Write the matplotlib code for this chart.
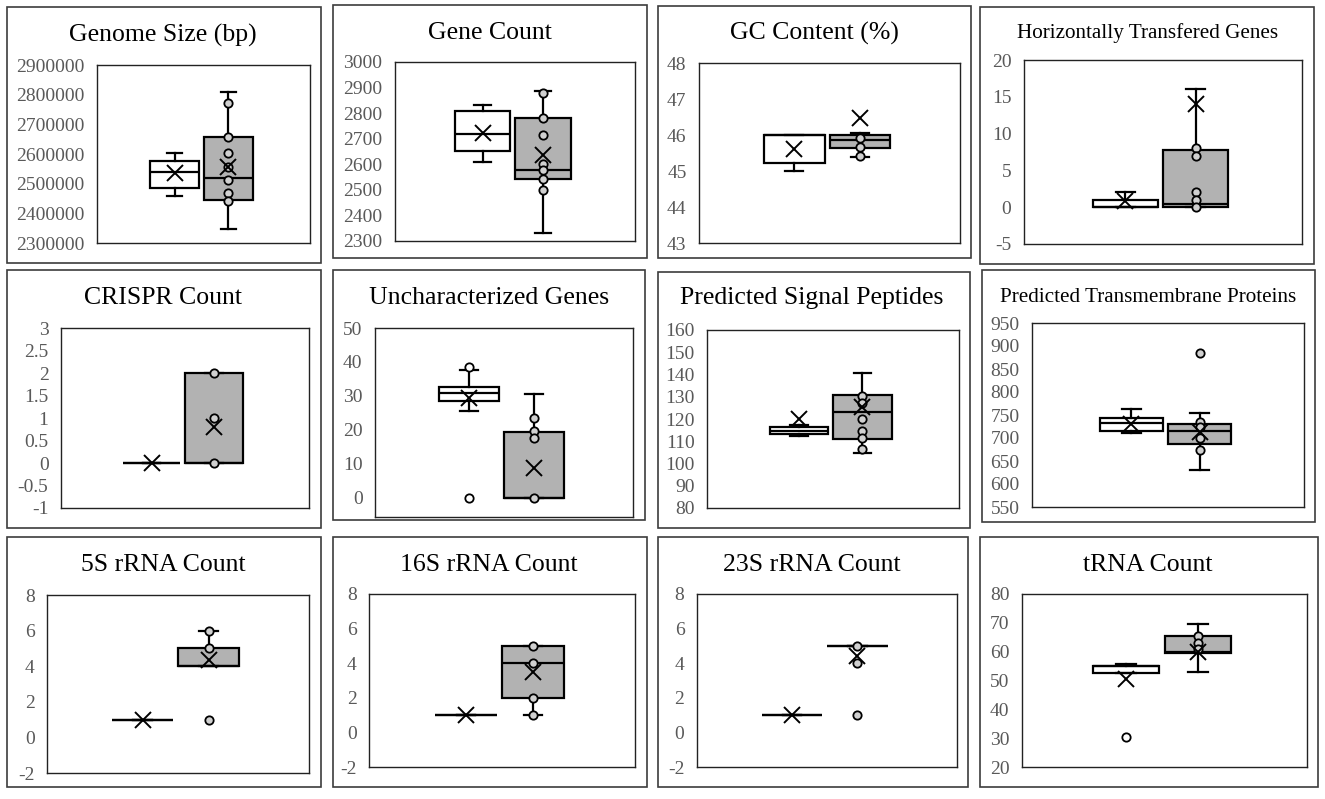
import matplotlib
matplotlib.use("Agg")
import matplotlib.pyplot as plt
from matplotlib.patches import Rectangle
from matplotlib.ticker import FuncFormatter
import numpy as np

# ---------------- data ----------------
titles = ["Genome Size (bp)", "Gene Count", "GC Content (%)", "Horizontally Transfered Genes",
          "CRISPR Count", "Uncharacterized Genes", "Predicted Signal Peptides",
          "Predicted Transmembrane Proteins", "5S rRNA Count", "16S rRNA Count",
          "23S rRNA Count", "tRNA Count"]

# white series box statistics
white_whislo = [2457600, 2609, 45.01, 0, 0, 25.6, 112.4, 710, 1, 1, 1, 52.7]
white_q1     = [2485700, 2651, 45.23, 0, 0, 28.5, 113.2, 715.8, 1, 1, 1, 52.7]
white_med    = [2539800, 2720, 46.0, 0, 0, 30.8, 114.7, 733.3, 1, 1, 1, 55.2]
white_q3     = [2576900, 2810, 46.0, 1, 0, 32.5, 116.2, 742.7, 1, 1, 1, 55.2]
white_whishi = [2601700, 2833, 46.0, 2, 0, 37.6, 117.2, 763, 1, 1, 1, 55.8]
white_mean   = [2536000, 2724, 45.61, 0.8, 0, 29.3, 119.9, 729.6, 1, 1, 1, 50.5]
white_points = [[], [], [], [], [], [38.6, 0], [], [], [], [], [], [30.4]]

# gray series box statistics
gray_whislo = [2347300, 2333, 45.40, 0, 0, 0, 104.5, 630, 4, 1, 5, 52.8]
gray_q1     = [2444100, 2544, 45.65, 0, 0, 0, 111.2, 687.4, 4, 2, 5, 59.6]
gray_med    = [2519500, 2579, 45.86, 0.5, 0, 0, 123.2, 715.8, 4, 4, 5, 60.0]
gray_q3     = [2655700, 2781, 46.0, 7.75, 2, 19.3, 130.7, 731, 5, 5, 5, 65.6]
gray_whishi = [2810000, 2887, 46.05, 16, 2, 30.7, 140.5, 753.6, 6, 5, 5, 69.5]
gray_mean   = [2556700, 2635, 46.47, 14, 0.8, 8.8, 125.5, 713.6, 4.36, 3.52, 4.42, 60.0]
gray_points = [[2771700, 2655700, 2602800, 2556700, 2511600, 2470000, 2440700],
               [2880, 2781, 2716, 2602, 2576, 2544, 2501],
               [45.93, 45.67, 45.43],
               [8, 7, 2, 1, 0],
               [2, 1, 0],
               [23.6, 19.8, 17.7, 0],
               [130.3, 127, 120.1, 114.7, 111.5, 106.3],
               [884.5, 735.5, 724.5, 699, 673.6],
               [6, 5, 1],
               [5, 4, 2, 1],
               [5, 4, 1],
               [65.6, 62.9, 60.8]]

# y axis ranges and tick steps
y_min  = [2300000, 2300, 43, -5, -1, -5.6, 80, 550, -2, -2, -2, 20]
y_max  = [2900000, 3000, 48, 20, 3, 50, 160, 950, 8, 8, 8, 80]
y_tick_start = [2300000, 2300, 43, -5, -1, 0, 80, 550, -2, -2, -2, 20]
y_step = [100000, 100, 1, 5, 0.5, 10, 10, 50, 2, 2, 2, 10]

# ---------------- layout (pixels) ----------------
W, H = 1325, 799
frames = [(7, 7, 321, 263), (333, 5, 647, 258), (658, 6, 971, 258), (980, 7, 1314, 264),
          (7, 270, 321, 528), (333, 270, 645, 520), (658, 272, 970, 528), (982, 270, 1315, 522),
          (7, 537, 321, 787), (333, 537, 647, 787), (658, 537, 968, 787), (980, 537, 1318, 787)]
plots = [(97, 65, 310, 243), (395, 62, 635, 241), (699, 63, 960, 243), (1024, 60, 1302, 244),
         (61, 328, 309, 508), (375, 328, 633, 517), (707, 330, 959, 508), (1032, 323, 1304, 507),
         (47, 595, 309, 773), (369, 594, 635, 767), (697, 594, 957, 767), (1022, 594, 1307, 767)]
title_pos = [(163, 35), (490, 33), (814, 33), (1148, 33),
             (163, 298), (489, 298), (812, 298), (1148, 297),
             (163, 565), (489, 565), (812, 565), (1148, 565)]
title_size = [18.5, 18.5, 18.5, 15.2, 18.5, 18.5, 18.5, 15.2, 18.5, 18.5, 18.5, 18.5]

SERIF = ["Liberation Serif", "DejaVu Serif"]
plt.rcParams["font.family"] = SERIF

fig = plt.figure(figsize=(W / 100, H / 100), dpi=100)
fig.patch.set_facecolor("white")

POS = [0.365, 0.617]
WID = 0.232
LW = 1.6
fmt = FuncFormatter(lambda v, p: f"{v:.10g}")

for i in range(12):
    l, t, r, b = frames[i]
    fig.add_artist(Rectangle((l / W, 1 - b / H), (r - l) / W, (b - t) / H,
                             transform=fig.transFigure, fill=False,
                             edgecolor="#3c3c3c", linewidth=1.2))
    cx, cy = title_pos[i]
    fig.text(cx / W, 1 - cy / H, titles[i], ha="center", va="center",
             fontsize=title_size[i], color="black")

    l, t, r, b = plots[i]
    ax = fig.add_axes([l / W, 1 - b / H, (r - l) / W, (b - t) / H])

    stats = [
        dict(whislo=white_whislo[i], q1=white_q1[i], med=white_med[i], q3=white_q3[i],
             whishi=white_whishi[i], mean=white_mean[i]),
        dict(whislo=gray_whislo[i], q1=gray_q1[i], med=gray_med[i], q3=gray_q3[i],
             whishi=gray_whishi[i], mean=gray_mean[i]),
    ]
    bp = ax.bxp(stats, positions=POS, widths=WID, patch_artist=True, showmeans=True,
                showfliers=False, capwidths=0.07,
                boxprops=dict(edgecolor="black", linewidth=LW),
                medianprops=dict(color="black", linewidth=LW),
                whiskerprops=dict(color="black", linewidth=LW),
                capprops=dict(color="black", linewidth=LW),
                meanprops=dict(marker="x", markersize=11, markeredgecolor="black",
                               markeredgewidth=1.4, zorder=5))
    bp["boxes"][0].set_facecolor("white")
    bp["boxes"][1].set_facecolor("#b2b2b2")

    for pos, pts, fc in ((POS[0], white_points[i], "white"), (POS[1], gray_points[i], "#d0d0d0")):
        if pts:
            ax.plot(np.full(len(pts), pos), pts, linestyle="none", marker="o",
                    markersize=6, markerfacecolor=fc, markeredgecolor="black",
                    markeredgewidth=1.3, zorder=4)

    ax.set_xlim(0, 1)
    ax.set_ylim(y_min[i], y_max[i])
    ticks = np.arange(y_tick_start[i], y_max[i] + y_step[i] * 0.01, y_step[i])
    ax.set_yticks(ticks)
    ax.yaxis.set_major_formatter(fmt)
    ax.set_xticks([])
    ax.tick_params(axis="y", length=0, pad=9, labelsize=14, labelcolor="#595959")
    for s in ax.spines.values():
        s.set_linewidth(1.0)
        s.set_color("#222222")

fig.savefig("out.png", dpi=100, facecolor="white")
